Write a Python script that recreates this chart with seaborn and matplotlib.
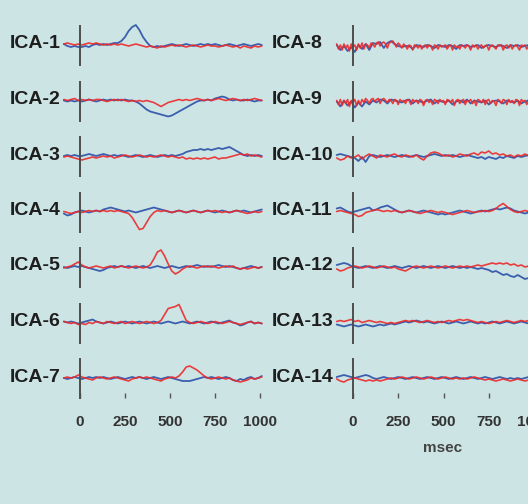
import numpy as np
import pandas as pd
import matplotlib
matplotlib.use("Agg")
import matplotlib.pyplot as plt
import seaborn as sns

# ---------------- data (values in display units, + = up) ----------------
TIME = list(range(-90, 1011, 20))        # 56 samples (ms)
TIME_FINE = list(range(-90, 1011, 10))   # 111 samples (ms)

LABELS_LEFT = ["ICA-1", "ICA-2", "ICA-3", "ICA-4", "ICA-5", "ICA-6", "ICA-7"]
LABELS_RIGHT = ["ICA-8", "ICA-9", "ICA-10", "ICA-11", "ICA-12", "ICA-13", "ICA-14"]
TICKS = [0, 250, 500, 750, 1000]
TICK_LABELS = ["0", "250", "500", "750", "1000"]

BLUE_ICA1 = [1, -1, -2, -1, -2, -2, -1, -2, 0, 1, 0, 1, 0, 1, 2, 2, 4, 8, 14, 18,
             20, 15, 8, 3, -1, -2, -1, -2, -1, 0, 1, 0, -1, 0, 1, 0, -1, 0, 1, 0,
             1, 0, 1, 0, -1, 0, 1, 0, -1, 0, 1, 0, -1, 0, 1, 0]
RED_ICA1 = [1, 2, 1, 0, 1, 0, 1, 2, 1, 2, 1, 0, 1, 0, 1, 0, 1, 0, -1, 0,
            1, 0, -1, -2, -1, -2, -3, -1, -2, -1, 0, -1, 0, -1, -2, -1, 0, -1, -2, -1,
            0, -1, -1, -2, -1, 0, -1, -2, -1, -3, -1, -2, -3, -1, -2, -1]

BLUE_ICA2 = [0, -1, 0, -1, 0, -1, 0, 1, 0, -1, 0, 1, 0, 1, 0, 1, 0, 1, 0, 0,
             -1, -3, -6, -9, -11, -12, -13, -14, -15, -16, -15, -13, -11, -9, -7, -5, -3, -1, 0, 0,
             1, 0, 2, 3, 4, 3, 1, 0, 1, 0, 0, 1, 0, -1, 0, 0]
RED_ICA2 = [1, 0, 1, 2, 0, 1, 0, 1, 0, 1, 1, 0, -1, 0, 1, 0, 1, 0, -1, 0,
            -1, 0, -1, 0, -1, -2, -4, -6, -4, -2, -1, 0, 1, 0, 1, 0, 1, 2, 1, 0,
            1, 0, 1, 2, 1, 0, 1, 2, 1, 0, 1, 0, 1, 2, 1, 0]

BLUE_ICA3 = [0, 1, 0, 1, 0, 0, 1, 2, 1, 0, 1, 2, 1, 0, 1, 0, 1, 0, -1, 0,
             1, 0, -1, 0, 1, 0, -1, 0, 1, 0, 1, 0, 1, 2, 4, 5, 6, 6, 7, 6,
             7, 6, 7, 8, 7, 8, 9, 7, 5, 3, 1, 0, 1, 0, 1, 0]
RED_ICA3 = [-1, 0, -1, -2, -3, -4, -3, -2, -1, -2, -1, 0, -1, 0, -2, -1, 0, 1, 0, -1,
            0, 1, 0, -1, 0, -1, 0, 1, 0, -1, 0, -1, -2, -1, -3, -2, -3, -2, -3, -2,
            -3, -2, -1, -3, -2, -2, -1, 0, 1, 2, 1, 2, 0, 1, 0, -1]

BLUE_ICA4 = [-2, -4, -3, -1, 0, 1, 0, -1, 0, 1, 0, 2, 3, 4, 3, 2, 1, 0, 1, 0,
             -1, 0, 1, 2, 3, 4, 3, 2, 1, 0, -1, 0, 1, 0, -1, 0, 1, 0, -1, 0,
             1, 0, -1, 0, 1, 0, -1, 0, 1, 0, 1, 0, -1, 0, 1, 2]
RED_ICA4 = [0, -1, -2, -1, 0, -1, 0, 1, 0, 1, 0, 1, 0, 1, 0, 1, 0, -1, -2, -6,
            -12, -18, -17, -11, -5, -1, 1, 0, 1, 0, -1, 0, 1, 0, -1, 0, 1, 0, -1, 0,
            1, 0, 1, 0, -1, 0, -1, 0, 1, 0, -1, -2, -1, 0, -1, 0]

BLUE_ICA5 = [0, -1, 0, 1, 0, 1, 0, -1, -2, -3, -4, -3, -1, 0, 1, 0, 1, 0, 1, 0,
             -1, 0, 1, 0, -1, 0, 1, 0, -1, 0, 1, 0, -1, 0, 1, 0, 1, 2, 1, 0,
             1, 0, 1, 2, 1, 0, 1, 0, -1, -2, -1, 0, 1, 0, -1, 0]
RED_ICA5 = [-1, 0, 1, 3, 5, 2, 0, -1, 0, 1, 0, -1, 0, 1, -1, 0, 1, 0, -1, 0,
            1, 0, -1, 0, 2, 8, 15, 17, 11, 3, -4, -7, -5, -2, 0, 1, 0, -1, 0, 1,
            0, 1, 0, -1, 0, 1, 0, 1, -1, -2, -1, -2, -1, 0, -1, 0]

BLUE_ICA6 = [1, 0, 1, 0, -1, 0, 1, 2, 3, 1, 0, -1, 0, 1, 0, -1, 0, 1, 0, -1,
             0, 1, 0, -1, 0, 1, 0, -1, 0, 1, 0, -1, 0, 1, 0, -1, 0, 1, 0, -1,
             0, 1, 0, -1, 0, 1, 2, 0, -1, -3, -2, 0, 1, -1, 0, -1]
RED_ICA6 = [1, 0, -1, 0, -2, -1, -2, 0, -1, 1, 0, -1, 1, 0, -1, 0, 1, -1, 0, 1,
            0, -1, 0, 1, 0, -1, 0, 2, 8, 14, 15, 16, 18, 10, 2, 0, -1, 0, 1, 0,
            -1, 0, 1, 0, -1, 0, 1, 0, -1, -2, -1, 0, 1, -1, 0, -1]

BLUE_ICA7 = [0, -1, 0, 1, 0, -1, 0, 1, 0, 1, 0, 1, 0, -1, 0, 1, 0, -1, 0, 1,
             0, 1, 0, -1, 0, 1, 0, -1, 0, 1, 0, -1, -2, -3, -3, -3, -2, -1, 0, 1,
             0, 1, 0, -1, 0, 1, 0, -2, -3, -1, -2, 0, 1, -1, 0, 2]
RED_ICA7 = [0, 1, 0, 1, 3, 1, 0, -1, -2, 0, 1, 0, -1, 0, 1, 0, -1, -2, -3, -1,
            0, 1, 0, 1, 0, -1, -2, -3, -1, 0, 1, 0, 2, 6, 11, 12, 10, 8, 5, 2,
            0, -1, 0, 1, 0, -1, 0, -2, -3, -4, -3, -2, 0, -1, 0, 1]

BLUE_ICA8 = [0, -5, -1, -6, -2, -7, 0, -4, 1, -5, 2, 1, 3, -3, 2, 4, 1, -1, -2, -1,
             -1, -4, 0, -1, -2, 0, -1, -3, 0, -1, -2, 0, -1, -4, 0, -1, 0, -2, -1, 0,
             -3, -1, 0, -1, -2, 0, -1, -3, 0, -1, 0, -2, -1, 0, -3, -1]
RED_ICA8 = [1, -4, 0, -5, 1, -3, 0, -6, 1, -2,
            0, -5, 1, -3, 2, -4, 1, 0, -3, 2,
            1, -2, 2, 3, -1, 2, 3, 1, -3, 2,
            3, 4, 1, -2, 2, 0, -3, 1, -1, -4,
            0, -1, -5, 0, -1, -3, 0, -4, -1, 0,
            -3, 0, -1, -5, 0, -1, -4, 0, -2, -1,
            0, -4, -1, 0, -5, 0, -2, -1, -4, 0,
            -1, -3, 0, -1, -5, 0, -2, 0, -4, -1,
            0, -3, -1, 0, -5, -1, 0, -2, -4, 0,
            -1, 0, -5, -1, 0, -3, 0, -4, -1, 0,
            -2, -5, 0, -1, 0, -4, -1, 0, -3, 0,
            -1]

BLUE_ICA9 = [-1, -6, 0, -5, -1, -7, -2, -6, -1, -4, 0, -2, 1, 0, -3, 1, 0, -1, -2, 0,
             1, -3, 0, -1, -2, 0, 1, -3, 0, -1, -2, 0, -4, -1, 0, -2, 1, -3, 0, -1,
             -2, 0, -4, -1, 0, -1, -3, 0, -1, -2, 0, -3, -1, 0, -2, 0]
RED_ICA9 = [0, -4, 1, -5, 0, -3, 1, -6, 0, -2,
            1, -5, 0, -4, 1, -2, 2, 0, -3, 1,
            2, -1, 1, 2, -3, 1, 2, 0, -2, 1,
            0, -3, 1, 0, -4, 1, -1, 0, -3, 1,
            0, -4, 1, -1, 0, -3, 1, 0, -5, 0,
            1, -2, 0, -4, 1, 0, -3, 1, -1, 0,
            -4, 1, 0, -2, 1, -5, 0, 1, -3, 0,
            1, -4, 0, -1, 1, -3, 0, -5, 1, 0,
            -2, 1, -4, 0, 1, -3, 0, -1, -5, 1,
            0, -3, 1, 0, -4, 1, -2, 0, -3, 1,
            0, -5, 1, -1, 0, -4, 1, 0, -3, 0,
            1]

BLUE_ICA10 = [1, 2, 1, 0, -1, -2, -5, -1, -6, 0, 1, 0, -1, 0, 1, 0, -1, 0, 1, 0,
              -1, 0, 1, 0, -1, 0, 1, 2, 1, 0, 1, 0, 1, 0, -1, 0, 1, 0, -1, -2,
              -1, -3, -1, -2, -3, -1, -2, 0, -1, -2, 0, -1, 0, 1, 0, -1]
RED_ICA10 = [-2, -4, -3, 0, -2, -1, 1, -3, 0, 2, 0, -2, 1, 0, -1, 1, 2, 0, -1, 1,
             0, -1, 1, -2, -4, 0, 3, 4, 3, 1, 0, 1, -1, 0, 2, 1, 0, 2, 3, 1,
             4, 3, 5, 2, 3, 1, 2, 0, 1, -1, 1, 0, 2, 0, 1, 0]

BLUE_ICA11 = [3, 4, 2, 0, -1, 0, 1, 2, 3, 4, 1, 2, 4, 5, 6, 4, 2, 0, -1, 0,
              1, 0, -1, 0, 1, 0, -1, -2, -3, -2, -3, -2, -1, 0, 1, 0, -1, -2, -1, 0,
              1, 0, 1, 2, 3, 2, 3, 4, 3, 1, 0, -1, -2, -1, 0, 1]
RED_ICA11 = [0, 1, 0, -1, -2, -3, -5, -4, -1, 0, 1, 2, 1, 0, 1, 0, 1, 0, -1, 0,
             1, 0, -1, -2, -1, 0, 1, 0, -1, 0, -1, -2, -3, -2, -1, 0, 1, 0, -1, 0,
             0, 1, 0, 1, 3, 6, 8, 5, 2, 0, -1, 0, 1, 0, -1, 0]

BLUE_ICA12 = [2, 3, 4, 3, 1, 0, -1, 0, 1, 0, -1, 0, 1, 0, -1, 0, 1, 0, -1, 0,
              1, 0, -1, 0, 1, 0, -1, 0, 1, 0, -1, 0, 1, 0, -1, 0, -1, 0, -1, -2,
              -1, -2, -3, -5, -4, -6, -8, -7, -9, -10, -8, -10, -12, -11, -13, -12]
RED_ICA12 = [-2, -4, -3, -1, 0, 1, 0, -1, 0, 1, 0, -1, 0, 1, 0, -1, 0, -2, -3, -4,
             -2, 0, 1, 0, -1, 0, 1, 0, -1, 0, 1, 0, -1, 0, 1, 0, 1, 0, 1, 2,
             1, 2, 3, 4, 3, 4, 3, 4, 2, 3, 1, 2, 0, 1, 0, 1]

BLUE_ICA13 = [-2, -3, -4, -3, -2, -3, -4, -3, -2, -3, -4, -3, -2, -3, -2, -1, -2, -1, 0, 1,
              0, 1, 2, 1, 0, 1, 0, -1, 0, 1, 0, -1, 0, 1, 0, -1, 0, 1, 0, -1,
              0, -1, 0, 1, 0, -1, 0, 1, 0, -1, 0, 1, 0, -1, 0, 1]
RED_ICA13 = [1, 2, 1, 2, 3, 1, 2, 0, 1, 2, 1, 0, 1, 0, -1, 0, -1, 0, 1, 2,
             1, 2, 1, 0, 1, 2, 1, 0, 1, 0, 1, 2, 1, 2, 3, 2, 3, 2, 1, 0,
             1, 0, -1, 0, 1, 0, 1, 2, 1, 0, 1, 2, 1, 2, 3, 2]

BLUE_ICA14 = [1, 2, 3, 2, 1, 0, 1, 2, 3, 2, 0, -1, 0, 1, 0, -1, 0, 1, 0, -1,
              0, 1, 0, -1, 0, 1, 0, -1, 0, 1, 0, -1, 0, 1, 0, -1, 0, 1, 0, -1,
              0, 1, 0, -1, 0, 1, 0, -1, 0, -1, 0, -1, 0, 1, 0, -1]
RED_ICA14 = [-1, -3, -4, -2, -1, 0, -1, -2, -3, -2, -3, -2, -3, -2, -1, 0, -1, 0, 1, 0,
             -1, 0, 1, 0, -1, 0, 1, 0, -1, 0, 1, 0, -1, 0, -1, 0, -1, 0, 1, 0,
             -1, -2, -1, -2, -3, -2, -1, -2, -3, -2, -1, -2, -3, -2, -1, -2]

LEFT_TRACES = [
    (TIME, BLUE_ICA1, TIME, RED_ICA1),
    (TIME, BLUE_ICA2, TIME, RED_ICA2),
    (TIME, BLUE_ICA3, TIME, RED_ICA3),
    (TIME, BLUE_ICA4, TIME, RED_ICA4),
    (TIME, BLUE_ICA5, TIME, RED_ICA5),
    (TIME, BLUE_ICA6, TIME, RED_ICA6),
    (TIME, BLUE_ICA7, TIME, RED_ICA7),
]
RIGHT_TRACES = [
    (TIME, BLUE_ICA8, TIME_FINE, RED_ICA8),
    (TIME, BLUE_ICA9, TIME_FINE, RED_ICA9),
    (TIME, BLUE_ICA10, TIME, RED_ICA10),
    (TIME, BLUE_ICA11, TIME, RED_ICA11),
    (TIME, BLUE_ICA12, TIME, RED_ICA12),
    (TIME, BLUE_ICA13, TIME, RED_ICA13),
    (TIME, BLUE_ICA14, TIME, RED_ICA14),
]

# ---------------- style / layout ----------------
sns.set_theme(style="white")
plt.rcParams["font.family"] = ["Liberation Sans", "DejaVu Sans"]

BG = "#cde4e4"
BLUE = "#3a5fae"
RED = "#ec2a2c"
ZERO_C = "#4d4d4d"

W, H = 528, 504
fig = plt.figure(figsize=(W / 100, H / 100), dpi=100, facecolor=BG)

ROW_PX = [45, 100.5, 156, 211.5, 267, 322.5, 378]
AX_TOP, AX_BOT = 15, 393
XLIM = (-100, 1040)


def make_ax(x0_px, scale):
    left = x0_px + XLIM[0] * scale
    width = (XLIM[1] - XLIM[0]) * scale
    ax = fig.add_axes([left / W, 1 - AX_BOT / H, width / W, (AX_BOT - AX_TOP) / H])
    ax.set_facecolor("none")
    return ax


def draw_column(ax, traces, labels, label_x):
    for (tb, vb, tr, vr), row, lab in zip(traces, ROW_PX, labels):
        base = -row
        sns.lineplot(x=tb, y=base + np.asarray(vb, float), color=BLUE, lw=1.3,
                     estimator=None, sort=False, ax=ax)
        sns.lineplot(x=tr, y=base + np.asarray(vr, float), color=RED, lw=1.2,
                     alpha=0.9, estimator=None, sort=False, ax=ax)
        ax.vlines(0, base - 21, base + 20, color=ZERO_C, lw=1.4, clip_on=False, zorder=5)
        fig.text(label_x / W, 1 - (row - 1) / H, lab, ha="left", va="center",
                 fontsize=14, fontweight="bold", color="#1e1e1e")
    ax.set_xlim(*XLIM)
    ax.set_ylim(-AX_BOT, -AX_TOP)
    ax.set_yticks([])
    ax.set_xticks(TICKS)
    ax.set_xticklabels(TICK_LABELS, fontsize=11, fontweight="bold", color="#333333")
    ax.tick_params(axis="x", bottom=True, direction="out", length=3.6, width=1.0,
                   color="#555555", pad=12)
    ax.set_xlabel("")
    ax.set_ylabel("")
    for s in ax.spines.values():
        s.set_visible(False)


ax_l = make_ax(80, 0.18)
draw_column(ax_l, LEFT_TRACES, LABELS_LEFT, 10)
ax_r = make_ax(353, 0.181)
draw_column(ax_r, RIGHT_TRACES, LABELS_RIGHT, 272)

fig.text(443 / W, 1 - 448 / H, "msec", ha="center", va="center",
         fontsize=11, fontweight="bold", color="#444444")

fig.savefig("out.png", dpi=100, facecolor=BG)
